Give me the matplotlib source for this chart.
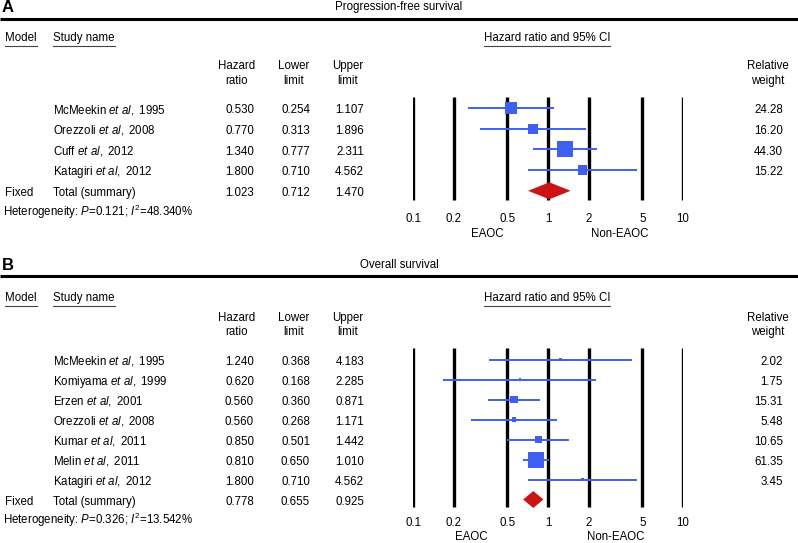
import matplotlib.pyplot as plt

plt.rcParams['font.family'] = ['Liberation Sans', 'DejaVu Sans']
plt.rcParams['mathtext.fontset'] = 'custom'
plt.rcParams['mathtext.rm'] = 'Liberation Sans'
plt.rcParams['mathtext.it'] = 'Liberation Sans:italic'

# ---------- data ----------
ticks = [0.1, 0.2, 0.5, 1, 2, 5, 10]
tick_labels = ["0.1", "0.2", "0.5", "1", "2", "5", "10"]

pfs_names = ["McMeekin", "Orezzoli", "Cuff", "Katagiri"]
pfs_years = [1995, 2008, 2012, 2012]
pfs_hr = [0.530, 0.770, 1.340, 1.800]
pfs_lower = [0.254, 0.313, 0.777, 0.710]
pfs_upper = [1.107, 1.896, 2.311, 4.562]
pfs_weight = [24.28, 16.20, 44.30, 15.22]
pfs_total = [1.023, 0.712, 1.470]
pfs_p = 0.121
pfs_i2 = 48.340

os_names = ["McMeekin", "Komiyama", "Erzen", "Orezzoli", "Kumar", "Melin", "Katagiri"]
os_years = [1995, 1999, 2001, 2008, 2011, 2011, 2012]
os_hr = [1.240, 0.620, 0.560, 0.560, 0.850, 0.810, 1.800]
os_lower = [0.368, 0.168, 0.360, 0.268, 0.501, 0.650, 0.710]
os_upper = [4.183, 2.285, 0.871, 1.171, 1.442, 1.010, 4.562]
os_weight = [2.02, 1.75, 15.31, 5.48, 10.65, 61.35, 3.45]
os_total = [0.778, 0.655, 0.925]
os_p = 0.326
os_i2 = 13.542

BLUE = '#3f5ff0'
RED = '#cc1414'
FS = 8.3
BASE = 4.2  # baseline offset from row centre, px

W, H = 798, 543
fig = plt.figure(figsize=(W / 100, H / 100), dpi=100)

# page axes in pixel units
bg = fig.add_axes([0, 0, 1, 1])
bg.set_xlim(0, W)
bg.set_ylim(H, 0)
bg.axis('off')

# forest axes: log x from 0.1 to 10, pixel y
fx0, fx1 = 413, 683
fa = fig.add_axes([fx0 / W, 0, (fx1 - fx0) / W, 1])
fa.set_xscale('log')
fa.set_xlim(0.1, 10)
fa.set_ylim(H, 0)
fa.axis('off')

underlined = []


def row_text(x, y, s, ha='left'):
    return bg.text(x, y + BASE, s, fontsize=FS, ha=ha, va='baseline')


def panel(letter, title, names, years, hr, lo, hi, wt, total, p, i2, L):
    bg.text(2, L['title'], letter, fontsize=12, fontweight='bold', va='center')
    bg.text(399, L['title'], title, fontsize=FS, ha='center', va='center')
    bg.plot([0, W], [L['rule'], L['rule']], color='black', lw=2.2, solid_capstyle='butt')

    underlined.append(row_text(5, L['head'], "Model"))
    underlined.append(row_text(53, L['head'], "Study name"))
    underlined.append(row_text(547, L['head'], "Hazard ratio and 95% CI", ha='center'))

    for x, lab in [(237, "Hazard\nratio"), (294, "Lower\nlimit"), (348, "Upper\nlimit"),
                   (768, "Relative\nweight")]:
        bg.text(x, L['cols'], lab, fontsize=FS, ha='center', va='center', linespacing=1.25)

    n = len(names)
    rows = [L['row0'] + i * L['step'] for i in range(n + 1)]
    for i in range(n):
        y = rows[i]
        row_text(53, y, f"{names[i]} $et\\ al,$ {years[i]}")
        row_text(254, y, f"{hr[i]:.3f}", ha='right')
        row_text(310, y, f"{lo[i]:.3f}", ha='right')
        row_text(364, y, f"{hi[i]:.3f}", ha='right')
        row_text(783, y, f"{wt[i]:.2f}", ha='right')

    yt = rows[n]
    row_text(5, yt, "Fixed")
    row_text(53, yt, "Total (summary)")
    row_text(254, yt, f"{total[0]:.3f}", ha='right')
    row_text(310, yt, f"{total[1]:.3f}", ha='right')
    row_text(364, yt, f"{total[2]:.3f}", ha='right')
    row_text(3, L['het'], "Heterogeneity: $P$=" + f"{p:.3f}; " + "$I^2$=" + f"{i2:.3f}%")

    # forest
    fa.vlines(ticks, L['vtop'], L['vbot'], color='black', lw=2.4)
    for t, lab in zip(ticks, tick_labels):
        fa.text(t, L['tick'] + BASE, lab, fontsize=FS, ha='center', va='baseline')
    row_text(L['eaoc'], L['side'], "EAOC", ha='center')
    row_text(L['neaoc'], L['side'], "Non-EAOC", ha='center')

    wmax = max(wt)
    for i in range(n):
        y = rows[i] - 1
        fa.plot([lo[i], hi[i]], [y, y], color=BLUE, lw=1.4, solid_capstyle='butt', zorder=3)
        side = 16 * (wt[i] / wmax) ** 0.5
        fa.scatter([hr[i]], [y], marker='s', s=(side * 0.72) ** 2, color=BLUE,
                   edgecolors='none', zorder=4)
    y = rows[n] - 1
    h = 8.5
    fa.fill([total[1], total[0], total[2], total[0]], [y, y - h, y, y + h],
            color=RED, lw=0, zorder=4)


panel("A", "Progression-free survival", pfs_names, pfs_years, pfs_hr, pfs_lower, pfs_upper,
      pfs_weight, pfs_total, pfs_p, pfs_i2,
      dict(title=7, rule=18.5, head=37, cols=73.5, row0=109, step=20.7, het=212,
           vtop=97, vbot=200, tick=218, side=233, eaoc=487, neaoc=620))
panel("B", "Overall survival", os_names, os_years, os_hr, os_lower, os_upper,
      os_weight, os_total, os_p, os_i2,
      dict(title=265, rule=276, head=297, cols=325, row0=360.5, step=20, het=520,
           vtop=348, vbot=507, tick=522, side=535.5, eaoc=471, neaoc=616))

# underline header labels
fig.canvas.draw()
inv = bg.transData.inverted()
for t in underlined:
    bb = t.get_window_extent()
    (x0, yb), (x1, _) = inv.transform([(bb.x0, bb.y0), (bb.x1, bb.y1)])
    bg.plot([x0, x1], [yb + 1.5, yb + 1.5], color='#444444', lw=0.8)

fig.savefig("out.png", dpi=100)
